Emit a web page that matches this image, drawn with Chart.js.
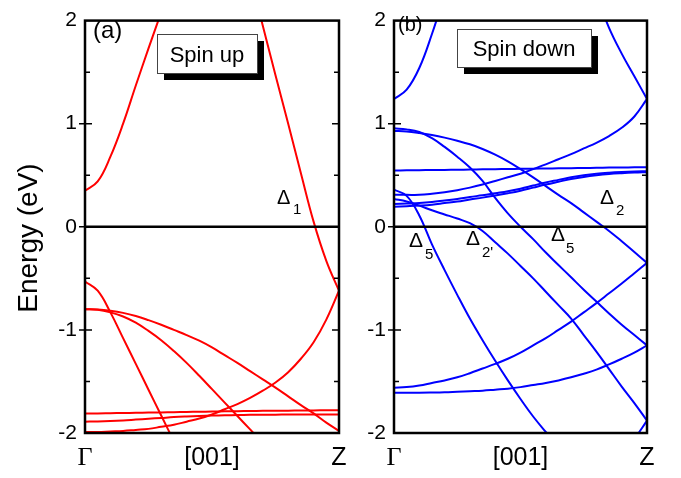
<!DOCTYPE html>
<html>
<head>
<meta charset="utf-8">
<script src="https://cdn.jsdelivr.net/npm/chart.js@4.4.0/dist/chart.umd.min.js"></script>
<style>
    body { margin: 0; background: #fff; }
    #wrap { position: relative; width: 681px; height: 478px; overflow: hidden; }
    canvas { position: absolute; top: 0; }
    #up { left: 0; }
    #down { left: 340px; }
</style>
</head>
<body>
<div id="wrap">
    <canvas id="up" width="360" height="478"></canvas>
    <canvas id="down" width="341" height="478"></canvas>
</div>
<script>
// k along [001], Gamma = 0, Z = 1
const kPath = [0, 0.05, 0.1, 0.15, 0.2, 0.25, 0.3, 0.35, 0.4, 0.45, 0.5, 0.55, 0.6, 0.65, 0.7, 0.75, 0.8, 0.85, 0.9, 0.95, 1];
const _ = null;

// Spin up bands (eV)
const up1 = [0.35, 0.44, 0.68, 1.0, 1.37, 1.73, 2.08, 2.43, _, _, _, _, _, _, _, _, _, _, _, _, _];
const up2 = [_, _, _, _, _, _, _, _, _, _, _, _, _, 2.43, 1.95, 1.47, 1.0, 0.52, 0.05, -0.33, -0.62];
const up3 = [-1.99, -1.99, -1.985, -1.98, -1.97, -1.96, -1.94, -1.92, -1.89, -1.86, -1.82, -1.77, -1.72, -1.66, -1.59, -1.51, -1.41, -1.28, -1.12, -0.9, -0.62];
const up4 = [-0.53, -0.62, -0.83, -1.08, -1.33, -1.58, -1.83, -2.08, _, _, _, _, _, _, _, _, _, _, _, _, _];
const up5 = [-0.80, -0.805, -0.83, -0.87, -0.93, -1.01, -1.10, -1.205, -1.32, -1.445, -1.575, -1.705, -1.835, -1.965, -2.095, _, _, _, _, _, _];
const up6 = [-0.80, -0.803, -0.815, -0.835, -0.865, -0.905, -0.95, -1.0, -1.05, -1.105, -1.17, -1.245, -1.32, -1.40, -1.48, -1.56, -1.645, -1.73, -1.81, -1.90, -1.98];
const up7 = [-1.81, -1.81, -1.808, -1.806, -1.804, -1.802, -1.80, -1.798, -1.796, -1.794, -1.792, -1.79, -1.788, -1.786, -1.785, -1.784, -1.783, -1.782, -1.781, -1.78, -1.78];
const up8 = [-1.89, -1.888, -1.884, -1.878, -1.87, -1.862, -1.854, -1.846, -1.84, -1.835, -1.831, -1.828, -1.826, -1.824, -1.823, -1.822, -1.821, -1.82, -1.82, -1.82, -1.82];

// Spin down bands (eV)
const dn1 = [1.24, 1.33, 1.54, 1.87, 2.25, _, _, _, _, _, _, _, _, _, _, _, _, _, _, _, _];
const dn2 = [_, _, _, _, _, _, _, _, _, _, _, _, _, _, _, _, 2.25, 1.93, 1.68, 1.46, 1.24];
const dn3 = [0.31, 0.31, 0.31, 0.32, 0.335, 0.355, 0.38, 0.41, 0.445, 0.48, 0.515, 0.56, 0.605, 0.655, 0.705, 0.76, 0.815, 0.88, 0.96, 1.07, 1.24];
const dn4 = [0.546, 0.548, 0.549, 0.551, 0.552, 0.554, 0.555, 0.557, 0.559, 0.56, 0.562, 0.564, 0.565, 0.567, 0.569, 0.57, 0.572, 0.574, 0.575, 0.577, 0.578];
const dn5 = [0.22, 0.225, 0.23, 0.24, 0.255, 0.27, 0.29, 0.305, 0.325, 0.345, 0.37, 0.4, 0.43, 0.455, 0.48, 0.5, 0.515, 0.525, 0.532, 0.537, 0.54];
const dn6 = [0.195, 0.2, 0.206, 0.215, 0.23, 0.245, 0.265, 0.283, 0.303, 0.325, 0.35, 0.38, 0.41, 0.437, 0.463, 0.484, 0.5, 0.512, 0.52, 0.526, 0.53];
const dn7 = [0.955, 0.945, 0.92, 0.86, 0.775, 0.68, 0.575, 0.445, 0.28, 0.13, 0.0, -0.12, -0.25, -0.37, -0.49, -0.61, -0.725, -0.84, -0.95, -1.05, -1.15];
const dn8 = [0.93, 0.925, 0.91, 0.89, 0.865, 0.835, 0.80, 0.755, 0.70, 0.635, 0.56, 0.48, 0.395, 0.31, 0.23, 0.14, 0.05, -0.04, -0.14, -0.245, -0.35];
const dn9 = [0.27, 0.245, 0.205, 0.16, 0.12, 0.08, 0.035, -0.04, -0.15, -0.26, -0.38, -0.5, -0.63, -0.76, -0.89, -1.05, -1.21, -1.38, -1.55, -1.71, -1.88];
const dn10 = [0.36, 0.30, 0.11, -0.17, -0.42, -0.66, -0.89, -1.1, -1.3, -1.49, -1.67, -1.84, -1.99, -2.13, _, _, _, _, _, _, _];
const dn11 = [-1.56, -1.555, -1.54, -1.515, -1.49, -1.46, -1.42, -1.375, -1.33, -1.28, -1.22, -1.15, -1.08, -1.0, -0.92, -0.83, -0.74, -0.645, -0.55, -0.45, -0.35];
const dn12 = [-1.61, -1.61, -1.61, -1.608, -1.605, -1.60, -1.595, -1.59, -1.58, -1.57, -1.555, -1.535, -1.515, -1.49, -1.46, -1.425, -1.385, -1.335, -1.28, -1.22, -1.15];
const dn13 = [_, _, _, _, _, _, _, _, _, _, _, _, _, _, _, _, _, _, -2.23, -2.06, -1.88];

// axis labels
const yTickLabels = ['-2', '-1', '0', '1', '2'];
const yMarks = [-1.5, -1, -0.5, 0, 0.5, 1, 1.5];
const xTickLabels = ['\u0393', '[001]', 'Z'];

const SANS = '"Liberation Sans", Arial, sans-serif';
const SERIF = '"Liberation Serif", "Times New Roman", serif';

function band(ys, color) {
    return {
        data: kPath.map((x, i) => ({ x: x, y: ys[i] })),
        borderColor: color,
        borderWidth: 2,
        pointRadius: 0,
        tension: 0.4,
        fill: false
    };
}

function zeroLine() {
    return {
        data: [{ x: 0, y: 0 }, { x: 1, y: 0 }],
        borderColor: '#000',
        borderWidth: 2.5,
        pointRadius: 0
    };
}

// frame, inner ticks and the texts on each panel
const panelDeco = {
    id: 'panelDeco',
    afterDraw(chart, args, o) {
        const ctx = chart.ctx, a = chart.chartArea, y = chart.scales.y;
        ctx.save();
        ctx.strokeStyle = '#000';
        ctx.lineWidth = 2.5;
        ctx.strokeRect(a.left, a.top, a.right - a.left, a.bottom - a.top);

        ctx.lineWidth = 1.5;
        yMarks.forEach(v => {
            const py = y.getPixelForValue(v);
            const major = Number.isInteger(v);
            const len = major ? 7 : 5;
            ctx.beginPath();
            ctx.moveTo(a.left - (major ? 6 : 0), py);
            ctx.lineTo(a.left + len, py);
            ctx.moveTo(a.right - len, py);
            ctx.lineTo(a.right, py);
            ctx.stroke();
        });

        // label box with shadow
        const b = o.box;
        ctx.fillStyle = '#000';
        ctx.fillRect(b.x + 7, b.y + 7, b.w, b.h);
        ctx.fillStyle = '#fff';
        ctx.fillRect(b.x, b.y, b.w, b.h);
        ctx.lineWidth = 1;
        ctx.strokeStyle = '#444';
        ctx.strokeRect(b.x + 0.5, b.y + 0.5, b.w, b.h);
        ctx.fillStyle = '#000';
        ctx.font = '22px ' + SANS;
        ctx.textAlign = 'center';
        ctx.textBaseline = 'alphabetic';
        ctx.fillText(b.text, b.x + b.w / 2, b.ty);

        ctx.textAlign = 'left';
        o.texts.forEach(t => {
            ctx.font = t.size + 'px ' + SANS;
            ctx.fillText(t.text, t.x, t.y);
        });

        if (o.title) {
            ctx.translate(37, 238);
            ctx.rotate(-Math.PI / 2);
            ctx.textAlign = 'center';
            ctx.font = '28px ' + SANS;
            ctx.fillText(o.title, 0, 0);
        }
        ctx.restore();
    }
};

function makePanel(id, bands, yWidth, padRight, deco) {
    new Chart(document.getElementById(id), {
        type: 'line',
        data: { datasets: [zeroLine()].concat(bands) },
        options: {
            responsive: false,
            devicePixelRatio: 1,
            animation: false,
            events: [],
            layout: { padding: { top: 13, right: padRight, bottom: 0, left: 0 } },
            scales: {
                x: {
                    type: 'linear',
                    min: 0,
                    max: 1,
                    afterFit: (s) => { s.height = 45; },
                    grid: { display: false, drawTicks: false },
                    border: { display: false },
                    ticks: {
                        stepSize: 0.5,
                        padding: 10,
                        maxRotation: 0,
                        autoSkip: false,
                        color: '#000',
                        font: (c) => (c.tick && c.tick.value === 0)
                            ? { family: SERIF, size: 26 }
                            : { family: SANS, size: 25 },
                        callback: (v) => xTickLabels[Math.round(v * 2)]
                    }
                },
                y: {
                    min: -2,
                    max: 2,
                    afterFit: (s) => { s.width = yWidth; },
                    grid: { display: false, drawTicks: false },
                    border: { display: false },
                    ticks: {
                        stepSize: 1,
                        padding: 8,
                        color: '#000',
                        font: { family: SANS, size: 21 },
                        callback: (v) => yTickLabels[Math.round(v) + 2]
                    }
                }
            },
            plugins: {
                legend: { display: false },
                tooltip: { enabled: false },
                panelDeco: deco
            }
        },
        plugins: [panelDeco]
    });
}

const RED = '#ff0000', BLUE = '#0000ff';

makePanel('up', [up1, up2, up3, up4, up5, up6, up7, up8].map(b => band(b, RED)), 85, 21, {
    box: { x: 157, y: 34, w: 100, h: 39, text: 'Spin up', ty: 62 },
    texts: [
        { text: '(a)', x: 93, y: 38, size: 24 },
        { text: '\u0394', x: 277, y: 204, size: 20 },
        { text: '1', x: 293, y: 214, size: 15 }
    ],
    title: 'Energy (eV)'
});

makePanel('down', [dn1, dn2, dn3, dn4, dn5, dn6, dn7, dn8, dn9, dn10, dn11, dn12, dn13].map(b => band(b, BLUE)), 54, 34, {
    box: { x: 117, y: 29, w: 134, h: 38, text: 'Spin down', ty: 56 },
    texts: [
        { text: '(b)', x: 58, y: 31, size: 20 },
        { text: '\u0394', x: 69, y: 247, size: 21 },
        { text: '5', x: 85, y: 259, size: 15 },
        { text: '\u0394', x: 126, y: 245, size: 21 },
        { text: "2'", x: 142, y: 257, size: 15 },
        { text: '\u0394', x: 211, y: 241, size: 21 },
        { text: '5', x: 226, y: 253, size: 15 },
        { text: '\u0394', x: 260, y: 204, size: 21 },
        { text: '2', x: 276, y: 215, size: 15 }
    ]
});
</script>
</body>
</html>
